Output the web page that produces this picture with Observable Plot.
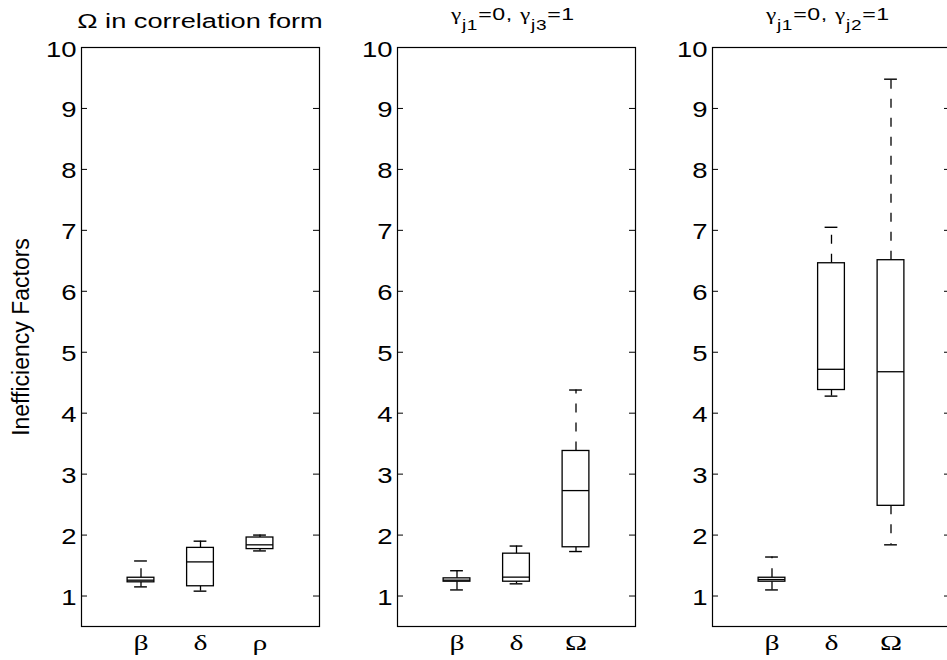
<!DOCTYPE html>
<html><head><meta charset="utf-8">
<script src="https://cdn.jsdelivr.net/npm/d3@7"></script>
<script src="https://cdn.jsdelivr.net/npm/@observablehq/plot@0.6"></script>
<style>
html,body{margin:0;padding:0;background:#fff;overflow:hidden;}
#chart{position:relative;width:947px;height:660px;overflow:hidden;font-family:"Liberation Sans",Arial,sans-serif;color:#000;}
.panel{position:absolute;top:0;}
.title{position:absolute;text-align:center;white-space:nowrap;transform-origin:center;}
.title .g{font-family:"Liberation Serif","Times New Roman",serif;}
.title .sub{font-size:14px;position:relative;top:10px;}
</style></head><body><div id="chart"></div>
<script>
// ---- data ----
const yTicks = [1, 2, 3, 4, 5, 6, 7, 8, 9, 10];
const categories = [["β", "δ", "ρ"], ["β", "δ", "Ω"], ["β", "δ", "Ω"]];
const whiskerLow  = [[1.15, 1.08, 1.74], [1.10, 1.20, 1.73], [1.10, 4.28, 1.84]];
const quartile1   = [[1.225, 1.16, 1.77], [1.235, 1.235, 1.80], [1.235, 4.38, 2.48]];
const medians     = [[1.26, 1.56, 1.84], [1.26, 1.31, 2.73], [1.27, 4.72, 4.68]];
const quartile3   = [[1.30, 1.79, 1.96], [1.29, 1.695, 3.38], [1.30, 6.46, 6.51]];
const whiskerHigh = [[1.575, 1.90, 2.00], [1.415, 1.82, 4.38], [1.64, 7.05, 9.48]];
const yLabel = "Inefficiency Factors";
const titleParts = [
  [["Ω in correlation form", ""]],
  [["γ", "g"], ["j1", "sub"], ["=0, ", ""], ["γ", "g"], ["j3", "sub"], ["=1", ""]],
  [["γ", "g"], ["j1", "sub"], ["=0, ", ""], ["γ", "g"], ["j2", "sub"], ["=1", ""]]
];

// ---- layout ----
const frameLeft = [81, 397, 712];
const frameW = 238;
const marginLeft = [81, 60, 60];
const marginRight = 10;
const mTop = 47, mBottom = 34, H = 660;
const tickLen = 6;

const chart = document.getElementById("chart");

function stretchText(svg, selector, sx, sy) {
  svg.querySelectorAll(selector).forEach(t => {
    const tr = t.getAttribute("transform") || "";
    t.setAttribute("transform", tr + ` scale(${sx},${sy})`);
  });
}

for (let p = 0; p < 3; p++) {
  const cats = categories[p];
  const data = cats.map((c, i) => ({
    cat: c, lo: whiskerLow[p][i], q1: quartile1[p][i], med: medians[p][i],
    q3: quartile3[p][i], hi: whiskerHigh[p][i]
  }));
  const mL = marginLeft[p];
  const marks = [
    Plot.axisY(yTicks, {anchor: "left", tickSize: 0, tickPadding: 5, dy: 2, fontSize: 22,
      fontFamily: "Liberation Sans", label: null, tickFormat: d => String(d)}),
    // inward ticks on left and right edges of the box
    Plot.tickY(yTicks, {y: d => d, insetRight: frameW - tickLen, stroke: "black", strokeWidth: 1}),
    Plot.tickY(yTicks, {y: d => d, insetLeft: frameW - tickLen, stroke: "black", strokeWidth: 1}),
    Plot.axisX({tickSize: 0, tickPadding: 8, fontSize: 22, fontFamily: "Liberation Serif", label: null}),
    Plot.ruleX(data, {x: "cat", y1: "q3", y2: "hi", stroke: "black", strokeWidth: 1.3, strokeDasharray: "9,10"}),
    Plot.ruleX(data, {x: "cat", y1: "q1", y2: "lo", stroke: "black", strokeWidth: 1.3, strokeDasharray: "9,10"}),
    Plot.tickY(data, {x: "cat", y: "hi", insetLeft: 7, insetRight: 7, stroke: "black", strokeWidth: 1.4}),
    Plot.tickY(data, {x: "cat", y: "lo", insetLeft: 7, insetRight: 7, stroke: "black", strokeWidth: 1.4}),
    Plot.barY(data, {x: "cat", y1: "q1", y2: "q3", fill: "white", stroke: "black", strokeWidth: 1.3}),
    Plot.tickY(data, {x: "cat", y: "med", stroke: "black", strokeWidth: 1.3}),
    Plot.frame({stroke: "black", strokeWidth: 1.2})
  ];
  if (p === 0) {
    marks.push(Plot.text([yLabel], {text: d => d, frameAnchor: "left", textAnchor: "middle",
      rotate: -90, dx: -60, fontSize: 23, fontFamily: "Liberation Sans", fill: "black"}));
  }
  const svg = Plot.plot({
    width: mL + frameW + marginRight, height: H,
    marginLeft: mL, marginRight, marginTop: mTop, marginBottom: mBottom,
    style: {background: "transparent", overflow: "visible", color: "black"},
    x: {type: "band", domain: cats, paddingInner: 0.55, paddingOuter: 0.775, round: false, axis: null},
    y: {domain: [0.5, 10], axis: null},
    marks
  });
  svg.classList.add("panel");
  svg.style.left = (frameLeft[p] - mL) + "px";
  svg.style.maxWidth = "none";
  chart.appendChild(svg);
  stretchText(svg, 'g[aria-label="y-axis tick label"] text', 1.25, 1);
  stretchText(svg, 'g[aria-label="x-axis tick label"] text', 1.35, 1);

  // title
  const div = document.createElement("div");
  div.className = "title";
  div.style.left = (frameLeft[p] - (p === 0 ? 0 : 3)) + "px";
  div.style.width = frameW + "px";
  if (p === 0) {
    div.style.fontSize = "20px"; div.style.lineHeight = "20px"; div.style.top = "11px";
    div.style.transform = "scaleX(1.36)";
  } else {
    div.style.fontSize = "17px"; div.style.lineHeight = "17px"; div.style.top = "6px";
    div.style.letterSpacing = "0.5px";
    div.style.transform = "scaleX(1.36)";
  }
  for (const [txt, cls] of titleParts[p]) {
    const s = document.createElement("span");
    if (cls) s.className = cls;
    s.textContent = txt;
    div.appendChild(s);
  }
  chart.appendChild(div);
}
</script></body></html>
